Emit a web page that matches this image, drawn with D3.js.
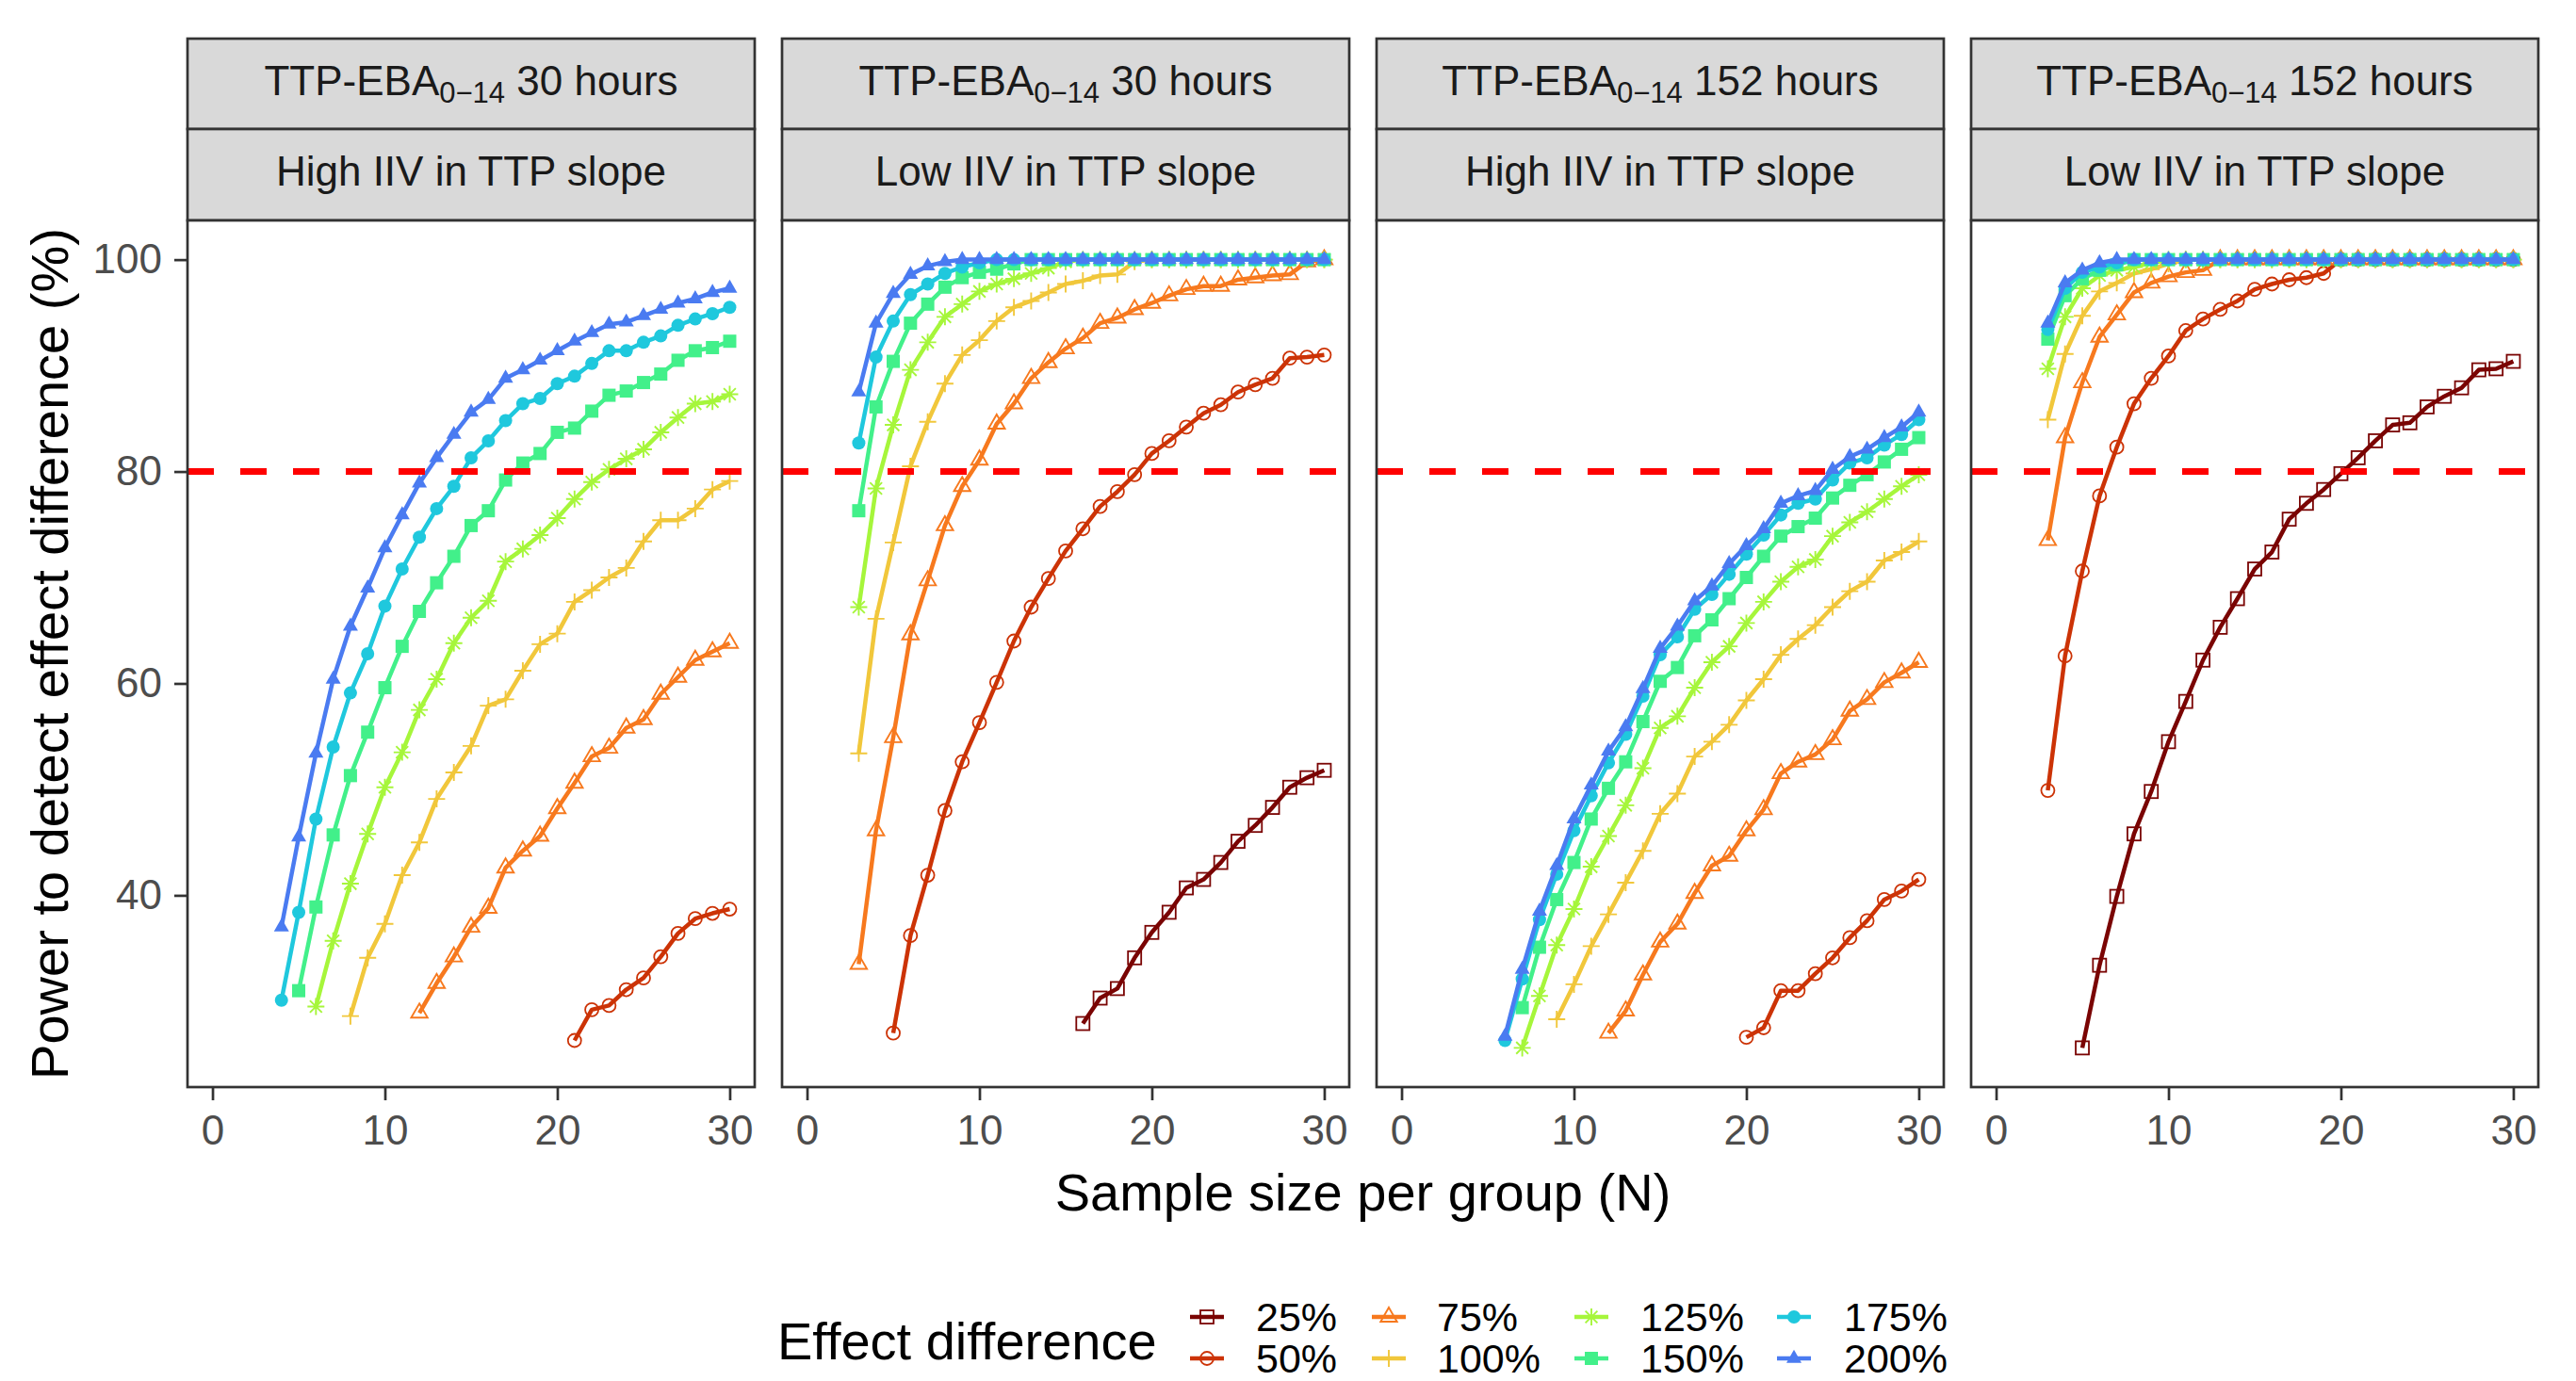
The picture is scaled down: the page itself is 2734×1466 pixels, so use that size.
<!DOCTYPE html>
<html><head><meta charset="utf-8">
<script src="https://cdn.jsdelivr.net/npm/d3@7"></script>
<style>
body{margin:0;background:#fff}
svg{display:block}
text{font-family:"Liberation Sans",Arial,Helvetica,sans-serif}
</style>
</head><body>
<svg id="chart" width="2734" height="1466"></svg>
<script>
// ---------------- DATA ----------------
const effects = ["25%","50%","75%","100%","125%","150%","175%","200%"];
const colors  = ["#7A0403","#CC3306","#F7791E","#F1C73B","#A6F63B","#42F08A","#1FC8DD","#4A7BF1"];
const shapes  = ["squareOpen","circleOpen","triangleOpen","plus","asterisk","square","circle","triangle"];

const stripMain = ["TTP-EBA","TTP-EBA","TTP-EBA","TTP-EBA"];
const stripSub  = ["0\u221214","0\u221214","0\u221214","0\u221214"];
const stripTime = [" 30 hours"," 30 hours"," 152 hours"," 152 hours"];
const stripIIV  = ["High IIV in TTP slope","Low IIV in TTP slope","High IIV in TTP slope","Low IIV in TTP slope"];

const xTicks = [0,10,20,30];
const yTicks = [40,60,80,100];
const threshold = 80;
const xTitle = "Sample size per group (N)";
const yTitle = "Power to detect effect difference (%)";
const legendTitle = "Effect difference";

// Panel 1: TTP-EBA 30 hours, High IIV — first sample size of each series
const p1_start = [null,21,12,8,6,5,4,4];
const p1_25  = [];
const p1_50  = [26.3,29.2,29.6,31.1,32.2,34.2,36.4,37.8,38.3,38.7];
const p1_75  = [28.9,31.7,34.2,37.0,38.8,42.6,44.2,45.6,48.2,50.6,53.1,53.9,55.8,56.6,59.0,60.6,62.2,63.0,63.8];
const p1_100 = [28.6,34.1,37.3,41.9,45.0,49.1,51.6,54.1,57.9,58.5,61.2,63.7,64.7,67.7,68.8,70.0,70.9,73.4,75.4,75.4,76.5,78.3,79.1];
const p1_125 = [29.5,35.7,41.1,45.8,50.2,53.5,57.5,60.4,63.8,66.2,67.8,71.5,72.7,74.0,75.6,77.4,79.0,80.2,81.2,82.1,83.7,85.1,86.4,86.6,87.3];
const p1_150 = [31.0,38.9,45.7,51.3,55.4,59.6,63.5,66.8,69.5,72.0,74.9,76.3,79.2,80.8,81.7,83.7,84.1,85.7,87.2,87.6,88.4,89.2,90.5,91.4,91.7,92.3];
const p1_175 = [30.1,38.4,47.2,54.0,59.1,62.8,67.3,70.8,73.8,76.5,78.6,81.3,82.9,84.8,86.4,86.9,88.3,89.0,90.2,91.4,91.4,92.2,92.8,93.8,94.4,94.9,95.5];
const p1_200 = [37.0,45.5,53.4,60.4,65.4,69.0,72.8,75.9,78.9,81.3,83.5,85.6,86.8,88.8,89.6,90.5,91.4,92.3,93.1,93.9,94.1,94.7,95.3,95.9,96.3,96.9,97.3];

// Panel 2: TTP-EBA 30 hours, Low IIV
const p2_start = [16,5,3,3,3,3,3,3];
const p2_25  = [27.9,30.3,31.2,34.1,36.5,38.4,40.7,41.5,43.1,45.1,46.6,48.3,50.2,51.1,51.8];
const p2_50  = [27.0,36.2,41.9,48.0,52.6,56.3,60.1,64.0,67.2,69.9,72.5,74.6,76.7,78.1,79.7,81.7,82.9,84.2,85.5,86.3,87.5,88.2,88.8,90.7,90.8,91.0];
const p2_75  = [33.5,46.1,54.9,64.6,69.7,74.9,78.6,81.1,84.5,86.4,88.8,90.3,91.6,92.6,94.0,94.5,95.3,95.9,96.6,97.2,97.5,97.5,98.1,98.3,98.5,98.6,99.8,100];
const p2_100 = [53.4,66.1,73.3,80.5,84.7,88.3,91.0,92.4,94.2,95.5,96.1,96.9,97.7,98.0,98.5,98.6,99.8,100,100,100,100,100,100,100,100,100,100,100];
const p2_125 = [67.2,78.4,84.4,89.6,92.2,94.6,95.8,97.0,97.7,98.2,98.7,99.2,99.8,100,100,100,100,100,100,100,100,100,100,100,100,100,100,100];
const p2_150 = [76.3,86.1,90.4,94.0,95.8,97.4,98.3,98.8,99.1,99.6,100,100,100,100,100,100,100,100,100,100,100,100,100,100,100,100,100,100];
const p2_175 = [82.7,90.8,94.2,96.7,97.7,98.7,99.3,99.7,100,100,100,100,100,100,100,100,100,100,100,100,100,100,100,100,100,100,100,100];
const p2_200 = [87.5,94.0,96.8,98.6,99.4,99.8,100,100,100,100,100,100,100,100,100,100,100,100,100,100,100,100,100,100,100,100,100,100];

// Panel 3: TTP-EBA 152 hours, High IIV
const p3_start = [null,20,12,9,7,7,6,6];
const p3_25  = [];
const p3_50  = [26.6,27.5,31.0,31.0,32.6,34.1,36.0,37.6,39.6,40.4,41.5];
const p3_75  = [27.0,29.1,32.5,35.6,37.3,40.2,42.8,43.7,46.1,48.1,51.5,52.6,53.3,54.7,57.4,58.5,60.1,61.0,62.0];
const p3_100 = [28.3,31.6,35.2,38.2,41.2,44.2,47.7,49.6,53.1,54.5,56.1,58.4,60.4,62.7,64.2,65.5,67.2,68.7,69.6,71.6,72.4,73.4];
const p3_125 = [25.6,30.5,35.3,38.7,42.7,45.6,48.5,52.0,55.8,56.9,59.6,62.0,63.5,65.7,67.7,69.6,71.0,71.7,73.9,75.2,76.2,77.4,78.6,79.7];
const p3_150 = [29.4,35.1,39.6,43.1,47.2,50.1,52.6,56.4,60.2,61.5,64.5,66.0,68.0,70.0,72.0,73.9,74.8,75.6,77.5,78.7,79.7,80.9,82.1,83.2];
const p3_175 = [26.3,32.1,37.7,42.0,46.1,49.4,52.5,55.2,58.8,62.7,64.4,67.0,68.4,70.3,72.2,74.0,75.9,77.0,77.4,79.2,80.8,81.3,82.5,83.5,84.9];
const p3_200 = [26.7,33.0,38.5,42.8,47.2,50.4,53.6,55.9,59.5,63.3,65.4,67.8,69.2,71.3,73.0,74.6,77.0,77.7,78.2,80.2,81.4,82.1,83.2,84.2,85.6];

// Panel 4: TTP-EBA 152 hours, Low IIV
const p4_start = [5,3,3,3,3,3,3,3];
const p4_25  = [25.6,33.4,39.9,45.8,49.8,54.5,58.3,62.2,65.3,68.0,70.8,72.4,75.5,77.0,78.3,79.8,81.3,82.9,84.4,84.6,86.1,87.1,87.9,89.6,89.7,90.4];
const p4_50  = [49.9,62.6,70.6,77.7,82.3,86.4,88.8,90.9,93.3,94.4,95.3,96.1,97.2,97.7,98.1,98.3,98.7,100,100,100,100,100,100,100,100,100,100,100];
const p4_75  = [73.5,83.2,88.4,92.7,94.8,96.9,97.8,98.4,98.8,99.0,100,100,100,100,100,100,100,100,100,100,100,100,100,100,100,100,100,100];
const p4_100 = [84.9,91.1,94.7,97.0,97.8,98.7,99.1,99.6,100,100,100,100,100,100,100,100,100,100,100,100,100,100,100,100,100,100,100,100];
const p4_125 = [89.7,94.6,97.3,98.5,99.0,99.3,99.7,100,100,100,100,100,100,100,100,100,100,100,100,100,100,100,100,100,100,100,100,100];
const p4_150 = [92.5,96.6,98.2,99.0,99.5,100,100,100,100,100,100,100,100,100,100,100,100,100,100,100,100,100,100,100,100,100,100,100];
const p4_175 = [93.4,97.3,98.8,99.3,99.7,100,100,100,100,100,100,100,100,100,100,100,100,100,100,100,100,100,100,100,100,100,100,100];
const p4_200 = [94.0,97.8,99.0,99.7,100,100,100,100,100,100,100,100,100,100,100,100,100,100,100,100,100,100,100,100,100,100,100,100];

const panels = [
  {start:p1_start, series:[p1_25,p1_50,p1_75,p1_100,p1_125,p1_150,p1_175,p1_200]},
  {start:p2_start, series:[p2_25,p2_50,p2_75,p2_100,p2_125,p2_150,p2_175,p2_200]},
  {start:p3_start, series:[p3_25,p3_50,p3_75,p3_100,p3_125,p3_150,p3_175,p3_200]},
  {start:p4_start, series:[p4_25,p4_50,p4_75,p4_100,p4_125,p4_150,p4_175,p4_200]}
];

// ---------------- LAYOUT ----------------
const svg = d3.select("#chart");
const panelLeft = [199, 830, 1461, 2092];
const panelW = 602;
const panelTop = 234, panelBottom = 1154;
const strip1Top = 41, stripMid = 137, strip2Bottom = 234;
const frame = "#333333";
const bw = 2.7;
const lineW = 4.5;

const x0 = d3.scaleLinear().domain([-1.45, 31.45]).range([0, panelW]);
const y = d3.scaleLinear().domain([21.9, 103.7]).range([panelBottom, panelTop]);

function shapePath(type){
  switch(type){
    case "triangleOpen": return "M0,-10L8.7,5L-8.7,5Z";
    case "triangle": return "M0,-9.3L8,4.65L-8,4.65Z";
    case "plus": return "M-9,0H9M0,-9V9";
    case "asterisk": return "M-9,0H9M0,-9V9M-6.4,-6.4L6.4,6.4M-6.4,6.4L6.4,-6.4";
  }
  return null;
}
function drawPoint(g, type, cx, cy, col){
  if(type==="squareOpen"){
    g.append("rect").attr("x",cx-7).attr("y",cy-7).attr("width",14).attr("height",14)
      .attr("fill","none").attr("stroke",col).attr("stroke-width",1.8);
  } else if(type==="circleOpen"){
    g.append("circle").attr("cx",cx).attr("cy",cy).attr("r",7)
      .attr("fill","none").attr("stroke",col).attr("stroke-width",1.8);
  } else if(type==="square"){
    g.append("rect").attr("x",cx-7).attr("y",cy-7).attr("width",14).attr("height",14).attr("fill",col);
  } else if(type==="circle"){
    g.append("circle").attr("cx",cx).attr("cy",cy).attr("r",7).attr("fill",col);
  } else if(type==="triangle"){
    g.append("path").attr("transform",`translate(${cx},${cy})`).attr("d",shapePath(type)).attr("fill",col);
  } else {
    g.append("path").attr("transform",`translate(${cx},${cy})`).attr("d",shapePath(type))
      .attr("fill","none").attr("stroke",col).attr("stroke-width",1.9);
  }
}

panels.forEach((p, pi) => {
  const left = panelLeft[pi];
  const x = x0.copy().range([left, left+panelW]);
  const g = svg.append("g");

  // strips
  g.append("rect").attr("x",left).attr("y",strip1Top).attr("width",panelW).attr("height",stripMid-strip1Top)
    .attr("fill","#D9D9D9").attr("stroke",frame).attr("stroke-width",bw);
  g.append("rect").attr("x",left).attr("y",stripMid).attr("width",panelW).attr("height",strip2Bottom-stripMid)
    .attr("fill","#D9D9D9").attr("stroke",frame).attr("stroke-width",bw);
  const t1 = g.append("text").attr("x",left+panelW/2).attr("y",101).attr("text-anchor","middle")
    .attr("font-size",44).attr("fill","#1A1A1A");
  t1.append("tspan").text(stripMain[pi]);
  t1.append("tspan").attr("font-size",31).attr("dy",8).text(stripSub[pi]);
  t1.append("tspan").attr("dy",-8).text(stripTime[pi]);
  g.append("text").attr("x",left+panelW/2).attr("y",197).attr("text-anchor","middle")
    .attr("font-size",44).attr("fill","#1A1A1A").text(stripIIV[pi]);

  // panel background
  g.append("rect").attr("x",left).attr("y",panelTop).attr("width",panelW).attr("height",panelBottom-panelTop)
    .attr("fill","#fff");

  const clip = "clip"+pi;
  svg.append("clipPath").attr("id",clip).append("rect")
    .attr("x",left).attr("y",panelTop).attr("width",panelW).attr("height",panelBottom-panelTop);
  const dg = g.append("g").attr("clip-path",`url(#${clip})`);

  // series
  p.series.forEach((vals, si) => {
    if(!vals.length) return;
    const pts = vals.map((v,k)=>[p.start[si]+k, v]);
    dg.append("path").datum(pts)
      .attr("d", d3.line().x(d=>x(d[0])).y(d=>y(d[1])))
      .attr("fill","none").attr("stroke",colors[si]).attr("stroke-width",lineW)
      .attr("stroke-linejoin","round");
    pts.forEach(d => drawPoint(dg, shapes[si], x(d[0]), y(d[1]), colors[si]));
  });

  // threshold
  dg.append("line").attr("x1",left).attr("x2",left+panelW).attr("y1",y(threshold)).attr("y2",y(threshold))
    .attr("stroke","#FF0000").attr("stroke-width",7).attr("stroke-dasharray","28,28");

  // border
  g.append("rect").attr("x",left).attr("y",panelTop).attr("width",panelW).attr("height",panelBottom-panelTop)
    .attr("fill","none").attr("stroke",frame).attr("stroke-width",bw);

  // x axis
  const xa = g.append("g").attr("transform",`translate(0,${panelBottom})`)
    .call(d3.axisBottom(x).tickValues(xTicks).tickSize(14).tickPadding(16).tickFormat(d3.format("d")));
  xa.select(".domain").remove();
  xa.selectAll(".tick line").attr("stroke",frame).attr("stroke-width",bw);
  xa.selectAll(".tick text").attr("font-size",44).attr("fill","#4D4D4D")
    .attr("font-family","'Liberation Sans',Arial,sans-serif");

  if(pi===0){
    const ya = g.append("g").attr("transform",`translate(${left},0)`)
      .call(d3.axisLeft(y).tickValues(yTicks).tickSize(14).tickPadding(13).tickFormat(d3.format("d")));
    ya.select(".domain").remove();
    ya.selectAll(".tick line").attr("stroke",frame).attr("stroke-width",bw);
    ya.selectAll(".tick text").attr("font-size",44).attr("fill","#4D4D4D")
      .attr("font-family","'Liberation Sans',Arial,sans-serif");
  }
});

// axis titles
svg.append("text").attr("x",(panelLeft[0]+panelLeft[3]+panelW)/2).attr("y",1285)
  .attr("text-anchor","middle").attr("font-size",56).attr("fill","#000").text(xTitle);
svg.append("text").attr("transform",`translate(72,${(panelTop+panelBottom)/2}) rotate(-90)`)
  .attr("text-anchor","middle").attr("font-size",56).attr("fill","#000").text(yTitle);

// legend
svg.append("text").attr("x",825).attr("y",1443).attr("font-size",56).attr("fill","#000").text(legendTitle);
const keyX = [1261, 1454, 1669, 1884];
const labX = [1333, 1525, 1741, 1957];
const rowY = [1398, 1442];
const lg = svg.append("g");
effects.forEach((e, i) => {
  const col = Math.floor(i/2), row = i%2;
  const cx = keyX[col] + 20, cy = rowY[row];
  lg.append("line").attr("x1",keyX[col]+2).attr("x2",keyX[col]+38).attr("y1",cy).attr("y2",cy)
    .attr("stroke",colors[i]).attr("stroke-width",lineW);
  drawPoint(lg, shapes[i], cx, cy, colors[i]);
  lg.append("text").attr("x",labX[col]).attr("y",cy+15).attr("font-size",43).attr("fill","#000").text(e);
});
</script>
</body></html>
